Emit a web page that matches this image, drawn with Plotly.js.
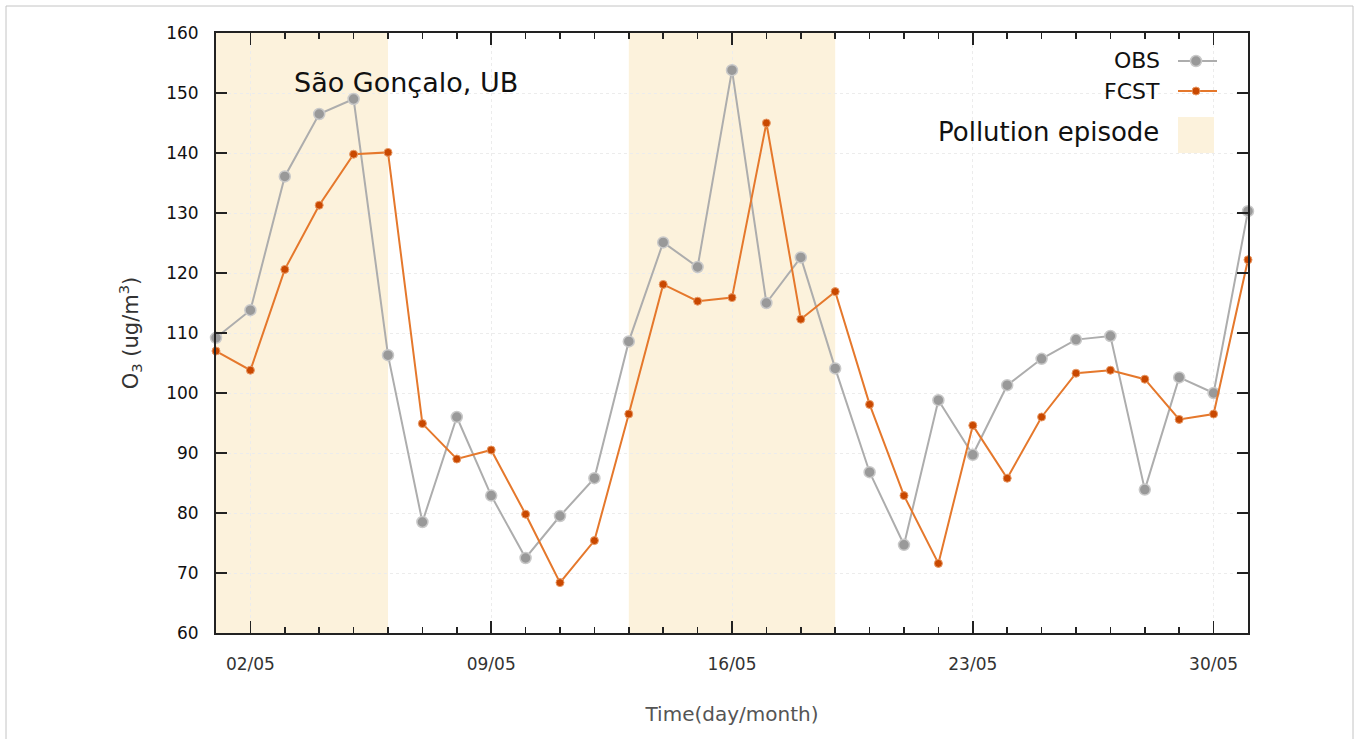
<!DOCTYPE html>
<html>
<head>
<meta charset="utf-8">
<script src="https://cdn.plot.ly/plotly-3.0.1.min.js"></script>
<style>html,body{margin:0;padding:0;background:#fff;}#chart{width:1359px;height:739px;}</style>
</head>
<body>
<div id="chart"></div>
<script>
// ---- data ----
const days = [1,2,3,4,5,6,7,8,9,10,11,12,13,14,15,16,17,18,19,20,21,22,23,24,25,26,27,28,29,30,31];
const obs  = [109.2,113.8,136.1,146.5,149.0,106.3,78.5,96.0,82.9,72.5,79.5,85.8,108.6,125.1,121.0,153.8,115.0,122.6,104.1,86.8,74.7,98.8,89.7,101.3,105.7,108.9,109.5,83.9,102.6,100.0,130.3];
const fcst = [107.0,103.8,120.6,131.3,139.8,140.1,94.9,89.0,90.5,79.8,68.4,75.4,96.5,118.1,115.3,115.9,145.0,112.3,116.9,98.1,82.9,71.6,94.6,85.8,96.0,103.3,103.8,102.3,95.6,96.5,122.2];
const episodes = [[1,6],[13,19]];
const tickDays = [2,9,16,23,30];
const tickLabels = ['02/05','09/05','16/05','23/05','30/05'];
const yTicks = [60,70,80,90,100,110,120,130,140,150,160];
const seriesNames = ['OBS','FCST'];
const stationLabel = 'São Gonçalo, UB';
const episodeLabel = 'Pollution episode';

// ---- styles ----
const obsLine = '#adadad', obsMarker = '#999999', obsEdge = '#c9c9c9';
const fcstLine = '#e5782c', fcstMarker = '#c94800', fcstEdge = '#e89a66';
const shade = '#fcf2dc';
const fontFam = 'DejaVu Sans, Liberation Sans, sans-serif';

const traces = [
  {x: days, y: obs, name: seriesNames[0], type: 'scatter', mode: 'lines+markers', cliponaxis: false,
   line: {color: obsLine, width: 2}, marker: {size: 11, color: obsMarker, line: {color: obsEdge, width: 1.5}}},
  {x: days, y: fcst, name: seriesNames[1], type: 'scatter', mode: 'lines+markers', cliponaxis: false,
   line: {color: fcstLine, width: 2}, marker: {size: 8, color: fcstMarker, line: {color: fcstEdge, width: 1}}}
];

// plot area in px: left 216, right 1248, top 33, bottom 633
const L = 216, R = 1248, T = 33, B = 633;
const px = v => (v - L) / (R - L);
const py = v => (B - v) / (B - T);

const shapes = [];
episodes.forEach(e => shapes.push({type: 'rect', xref: 'x', yref: 'paper', x0: e[0], x1: e[1], y0: 0, y1: 1,
  fillcolor: shade, line: {width: 0}, layer: 'below'}));

// custom legend samples (symbol on the right of the text)
const lgX0 = 1178, lgX1 = 1217, lgXm = 1196;
const lgY = [61, 91];
const rx = 5.5 / (R - L), ry = 5.5 / (B - T);
shapes.push({type: 'line', xref: 'paper', yref: 'paper', x0: px(lgX0), x1: px(lgX1), y0: py(lgY[0]), y1: py(lgY[0]), line: {color: obsLine, width: 2}});
shapes.push({type: 'circle', xref: 'paper', yref: 'paper', x0: px(lgXm) - rx, x1: px(lgXm) + rx, y0: py(lgY[0]) - ry, y1: py(lgY[0]) + ry, fillcolor: obsMarker, line: {color: obsEdge, width: 1.5}});
shapes.push({type: 'line', xref: 'paper', yref: 'paper', x0: px(lgX0), x1: px(lgX1), y0: py(lgY[1]), y1: py(lgY[1]), line: {color: fcstLine, width: 2}});
const rx2 = 4 / (R - L), ry2 = 4 / (B - T);
shapes.push({type: 'circle', xref: 'paper', yref: 'paper', x0: px(lgXm) - rx2, x1: px(lgXm) + rx2, y0: py(lgY[1]) - ry2, y1: py(lgY[1]) + ry2, fillcolor: fcstMarker, line: {color: fcstEdge, width: 1}});
shapes.push({type: 'rect', xref: 'paper', yref: 'paper', x0: px(1178), x1: px(1214), y0: py(153), y1: py(117), fillcolor: shade, line: {width: 0}});
// figure frame
shapes.push({type: 'rect', xref: 'paper', yref: 'paper', x0: px(6), x1: px(1353), y0: py(760), y1: py(6), line: {color: '#c4c4c4', width: 1}, fillcolor: 'rgba(0,0,0,0)'});

const annotations = [
  {xref: 'x', yref: 'y', x: 3.2, y: 151.8, xanchor: 'left', yanchor: 'middle', showarrow: false, text: stationLabel,
   font: {family: fontFam, size: 27, color: '#111'}},
  {xref: 'paper', yref: 'paper', x: px(1162), y: py(lgY[0]), xanchor: 'right', yanchor: 'middle', showarrow: false, text: seriesNames[0],
   font: {family: fontFam, size: 22, color: '#111'}},
  {xref: 'paper', yref: 'paper', x: px(1162), y: py(lgY[1]), xanchor: 'right', yanchor: 'middle', showarrow: false, text: seriesNames[1],
   font: {family: fontFam, size: 22, color: '#111'}},
  {xref: 'paper', yref: 'paper', x: px(1161), y: py(132), xanchor: 'right', yanchor: 'middle', showarrow: false, text: episodeLabel,
   font: {family: fontFam, size: 26, color: '#111'}}
];

const layout = {
  width: 1359, height: 739,
  margin: {l: L, r: 1359 - R, t: T, b: 739 - B, pad: 0},
  paper_bgcolor: '#ffffff', plot_bgcolor: '#ffffff',
  showlegend: false,
  font: {family: fontFam, color: '#222'},
  xaxis: {
    range: [1, 31], tickmode: 'array', tickvals: tickDays, ticktext: tickLabels,
    ticks: 'inside', ticklen: 12, tickwidth: 1.5, tickcolor: '#222',
    minor: {dtick: 1, tick0: 1, ticks: 'inside', ticklen: 6, tickwidth: 1.5, tickcolor: '#222', showgrid: false},
    showline: true, linecolor: '#222', linewidth: 2, mirror: 'ticks',
    showgrid: true, gridcolor: '#ececec', griddash: 'dot', gridwidth: 1,
    zeroline: false, ticklabelstandoff: 15,
    tickfont: {family: fontFam, size: 17, color: '#333'},
    title: {text: 'Time(day/month)', font: {family: fontFam, size: 20, color: '#555'}, standoff: 34},
    automargin: false
  },
  yaxis: {
    range: [60, 160], tickmode: 'array', tickvals: yTicks,
    ticks: 'inside', ticklen: 11, tickwidth: 2, tickcolor: '#222',
    showline: true, linecolor: '#222', linewidth: 2, mirror: 'ticks',
    showgrid: true, gridcolor: '#ececec', griddash: 'dot', gridwidth: 1,
    zeroline: false, ticklabelstandoff: 12,
    tickfont: {family: fontFam, size: 17, color: '#111'},
    title: {text: 'O<sub>3</sub> (ug/m<sup>3</sup>)', font: {family: fontFam, size: 21, color: '#333'}, standoff: 22},
    automargin: false
  },
  shapes: shapes,
  annotations: annotations
};

Plotly.newPlot('chart', traces, layout, {displayModeBar: false, staticPlot: true});
</script>
</body>
</html>
